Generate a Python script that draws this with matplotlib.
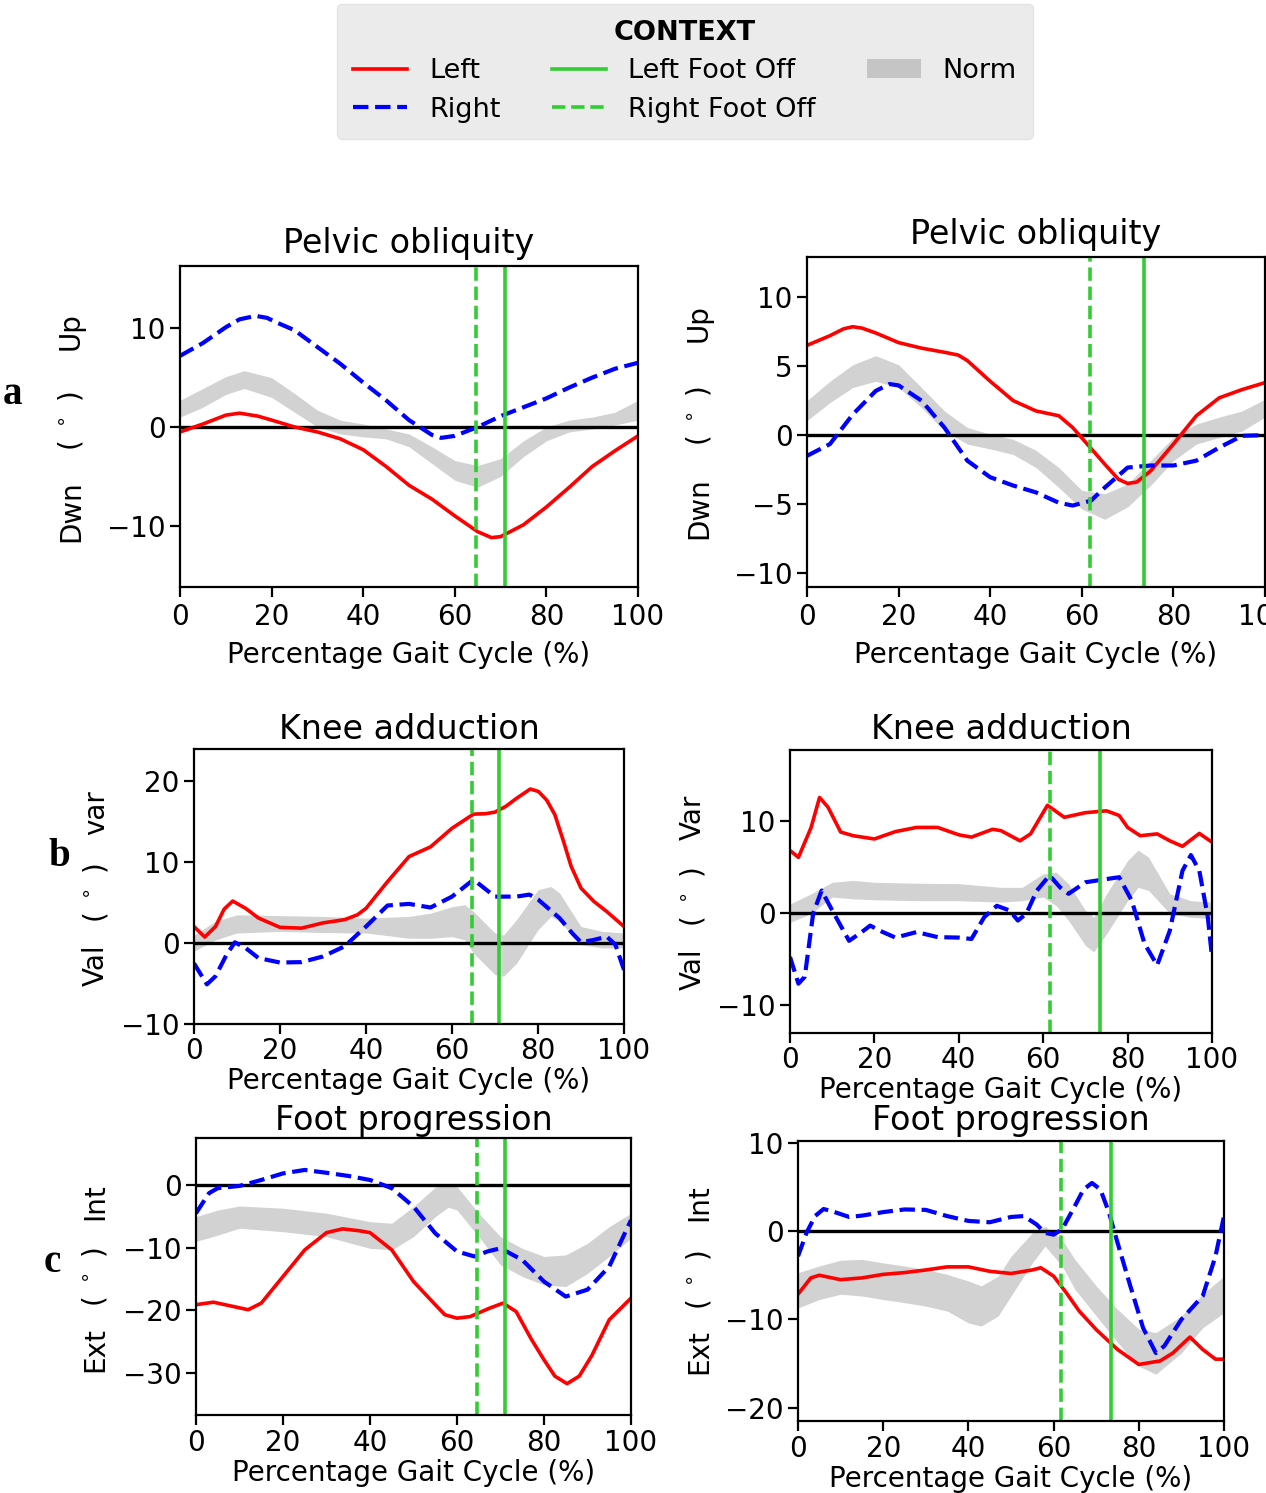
import matplotlib
matplotlib.use("Agg")
import matplotlib.pyplot as plt
from matplotlib.lines import Line2D
from matplotlib.patches import Patch

# ---- data (degrees vs % gait cycle) ----
# left column subject
left_rfo = 64.7  # right foot off
left_lfo = 71.0  # left foot off
# right column subject
right_rfo = 61.7
right_lfo = 73.5

# a) pelvic obliquity, left column
pel1_red_x = [0, 5, 10, 13, 17, 20, 25, 30, 35, 40, 45, 50, 55, 60, 65, 68, 70, 75, 80, 85, 90, 95, 100]
pel1_red = [-0.5, 0.3, 1.2, 1.4, 1.1, 0.7, 0.0, -0.5, -1.2, -2.3, -4.0, -5.9, -7.3, -9.0, -10.6, -11.2, -11.1, -9.9, -8.1, -6.1, -4.0, -2.4, -0.9]
pel1_blue_x = [0, 5, 10, 13, 16.5, 19, 21, 25, 30, 35, 40, 45, 50, 55, 57, 60, 65, 70, 75, 80, 85, 90, 95, 100]
pel1_blue = [7.2, 8.5, 10.1, 10.9, 11.25, 11.05, 10.6, 9.8, 8.1, 6.4, 4.5, 2.7, 0.7, -0.8, -1.1, -0.9, 0.0, 1.1, 2.0, 2.9, 4.0, 5.0, 5.9, 6.5]
pel1_norm_x = [0, 5, 10, 14, 20, 25, 30, 35, 40, 45, 50, 55, 60, 65, 70, 75, 80, 85, 90, 95, 100]
pel1_norm_hi = [2.7, 3.9, 5.1, 5.7, 5.0, 3.4, 1.7, 0.7, 0.3, -0.2, -0.7, -2.0, -3.4, -3.9, -3.2, -1.4, 0.0, 0.7, 1.0, 1.5, 2.7]
pel1_norm_lo = [1.0, 2.0, 3.3, 3.9, 3.0, 1.5, 0.0, -0.7, -1.0, -1.2, -2.0, -3.7, -5.4, -6.1, -5.0, -3.0, -1.4, -0.5, -0.2, 0.2, 0.7]

# a) pelvic obliquity, right column
pel2_red_x = [0, 5, 8, 10, 12, 15, 20, 25, 30, 33, 35, 40, 45, 50, 55, 58, 60, 65, 68, 70, 72, 75, 80, 85, 90, 95, 100]
pel2_red = [6.5, 7.2, 7.7, 7.85, 7.75, 7.4, 6.7, 6.3, 6.0, 5.8, 5.4, 3.9, 2.5, 1.75, 1.4, 0.55, -0.2, -2.1, -3.2, -3.5, -3.4, -2.6, -0.65, 1.4, 2.7, 3.3, 3.8]
pel2_blue_x = [0, 5, 10, 15, 18, 20, 25, 30, 35, 40, 45, 50, 55, 58, 62, 65, 70, 75, 80, 85, 90, 95, 100]
pel2_blue = [-1.5, -0.65, 1.5, 3.2, 3.7, 3.6, 2.5, 0.55, -1.85, -3.05, -3.65, -4.15, -4.9, -5.1, -4.75, -3.8, -2.35, -2.2, -2.2, -1.85, -0.9, -0.05, 0.0]
pel2_norm_x = [0, 5, 10, 15, 20, 25, 30, 35, 40, 45, 50, 55, 60, 65, 70, 75, 80, 85, 90, 95, 100]
pel2_norm_hi = [2.5, 3.9, 5.1, 5.75, 5.1, 3.45, 1.75, 0.55, 0.07, -0.3, -1.1, -2.35, -4.0, -4.25, -3.55, -1.85, -0.17, 0.8, 1.3, 1.75, 2.6]
pel2_norm_lo = [1.05, 2.35, 3.45, 3.9, 3.45, 2.0, 0.3, -0.65, -1.0, -1.4, -2.35, -3.8, -5.35, -6.1, -5.2, -3.65, -1.85, -0.65, -0.17, 0.3, 1.3]

# b) knee adduction, left column
kne1_red_x = [0, 2.5, 5, 7, 9, 12, 15, 20, 25, 30, 35, 38, 40, 45, 50, 55, 60, 65, 67.8, 70, 72.5, 75, 78.2, 80.1, 82, 83.9, 85.8, 87.7, 90, 93, 96, 100]
kne1_red = [2.05, 0.75, 2.05, 4.2, 5.2, 4.3, 3.1, 1.95, 1.85, 2.5, 2.9, 3.5, 4.3, 7.6, 10.7, 11.9, 14.2, 15.95, 16.0, 16.2, 16.9, 17.9, 19.05, 18.75, 17.7, 15.9, 12.8, 9.5, 6.8, 5.15, 3.9, 2.05]
kne1_blue_x = [0, 3, 5, 7.5, 9.5, 12, 15, 20, 25, 30, 35, 40, 45, 50, 55, 60, 65, 70, 75, 78, 80, 85, 88, 90, 93, 96, 98, 100]
kne1_blue = [-2.5, -5.1, -4.1, -1.5, 0.1, -0.6, -1.85, -2.4, -2.35, -1.65, -0.4, 2.05, 4.65, 4.85, 4.4, 5.75, 7.85, 5.75, 5.75, 6.0, 5.4, 3.1, 1.2, 0.1, 0.4, 0.8, -0.2, -3.3]
kne1_norm_x = [0, 5, 10, 20, 30, 40, 50, 55, 60, 63, 65, 70, 72, 75, 80, 83, 85, 90, 95, 100]
kne1_norm_hi = [1.0, 2.7, 3.5, 3.4, 3.3, 3.1, 3.3, 3.7, 4.5, 4.75, 3.9, 1.25, 1.0, 2.9, 6.6, 7.0, 6.2, 2.05, 1.45, 1.25]
kne1_norm_lo = [-1.0, 0.4, 1.25, 1.45, 1.3, 1.25, 0.6, 0.6, 0.8, 0.4, -1.25, -3.9, -4.1, -2.5, 1.65, 3.3, 2.7, -0.2, -0.6, -0.6]

# b) knee adduction, right column
kne2_red_x = [0, 2, 5, 7, 9, 12, 15, 20, 25, 30, 35, 40, 43, 48, 50, 54.5, 57, 61, 65, 70, 75, 78, 80, 83, 87, 90, 93, 97, 100]
kne2_red = [6.8, 6.05, 9.3, 12.55, 11.5, 8.8, 8.4, 8.05, 8.85, 9.3, 9.3, 8.5, 8.25, 9.1, 8.95, 7.85, 8.6, 11.7, 10.4, 10.9, 11.1, 10.6, 9.3, 8.4, 8.6, 7.85, 7.25, 8.65, 7.7]
kne2_blue_x = [0, 2, 3.5, 5.5, 7.5, 10, 14, 17, 19, 22, 25, 30, 35, 40, 43, 46, 49, 52, 54, 56, 58.5, 61.5, 64, 66, 70, 75, 78, 81, 84, 87, 90, 93, 95, 97, 99, 100]
kne2_blue = [-4.75, -7.65, -6.9, 0.0, 2.45, 0.3, -3.0, -2.05, -1.35, -2.05, -2.65, -2.05, -2.6, -2.65, -2.8, -0.45, 0.8, 0.3, -0.8, -0.05, 2.45, 4.1, 2.8, 2.1, 3.35, 3.7, 3.9, 1.35, -3.3, -5.65, -1.9, 4.6, 6.3, 4.6, -0.4, -4.75]
kne2_norm_x = [0, 5, 10, 15, 20, 30, 40, 50, 55, 60, 63, 66, 70, 72, 75, 80, 82.5, 85, 90, 95, 100]
kne2_norm_hi = [1.0, 2.1, 3.35, 3.55, 3.35, 3.25, 3.2, 2.8, 2.8, 4.25, 4.45, 3.2, 0.3, -0.45, 2.1, 5.7, 6.85, 6.05, 2.1, 1.35, 1.2]
kne2_norm_lo = [-1.0, -0.05, 1.75, 1.55, 1.45, 1.35, 1.35, 1.2, 1.35, 1.75, 0.85, -0.8, -3.5, -4.2, -2.25, 1.35, 2.8, 2.45, -0.05, -0.45, -0.6]

# c) foot progression, left column
fot1_red_x = [0, 4, 8, 12, 15, 20, 25, 30, 33.7, 37.5, 40, 45, 50, 55, 57.2, 60, 63, 67.5, 70.6, 73.6, 77, 80, 82.5, 85.3, 88.1, 91, 95, 100]
fot1_red = [-19.1, -18.7, -19.3, -19.9, -18.85, -14.6, -10.35, -7.6, -7.0, -7.3, -7.6, -10.35, -15.4, -19.1, -20.7, -21.25, -21.0, -19.65, -18.85, -20.2, -24.5, -27.9, -30.5, -31.7, -30.5, -27.2, -21.5, -18.05]
fot1_blue_x = [0, 3, 5, 10, 15, 20, 25, 30, 35, 40, 45, 50, 55, 60, 64, 67, 70, 75, 80, 85, 90, 95, 100]
fot1_blue = [-4.5, -1.3, -0.5, -0.15, 0.8, 1.85, 2.4, 1.95, 1.45, 0.8, -0.5, -3.45, -7.7, -10.6, -11.4, -10.6, -10.1, -11.95, -15.4, -17.8, -16.7, -13.0, -5.6]
fot1_norm_x = [0, 5, 10, 20, 30, 40, 45, 50, 55, 58, 60, 65, 70, 75, 80, 85, 90, 95, 100]
fot1_norm_hi = [-5.05, -4.0, -3.35, -3.7, -4.5, -5.85, -6.1, -3.45, -0.35, 0.25, -0.25, -4.5, -8.25, -10.1, -11.4, -11.15, -9.3, -6.65, -4.5]
fot1_norm_lo = [-9.0, -8.0, -6.9, -7.45, -8.25, -10.1, -10.35, -8.25, -5.05, -3.55, -4.0, -8.25, -12.75, -14.6, -15.95, -16.2, -14.1, -11.4, -8.5]

# c) foot progression, right column
fot2_red_x = [0, 3, 5, 10, 15, 20, 25, 30, 35, 40, 45, 50, 55, 57, 60, 63, 66, 70, 75, 80, 85, 88, 92, 95, 98, 100]
fot2_red = [-7.15, -5.3, -5.0, -5.5, -5.3, -4.9, -4.7, -4.4, -4.05, -4.05, -4.55, -4.8, -4.4, -4.15, -5.1, -7.0, -9.05, -11.15, -13.4, -15.1, -14.7, -13.8, -12.0, -13.4, -14.5, -14.5]
fot2_blue_x = [0, 2, 4, 6, 8, 12, 15, 20, 25, 30, 35, 40, 45, 50, 53, 56, 58, 60, 62, 65, 67, 69, 71, 73, 75, 78, 81, 84, 86, 90, 95, 98, 100]
fot2_blue = [-2.85, -0.2, 1.7, 2.5, 2.25, 1.6, 1.75, 2.15, 2.45, 2.4, 1.7, 1.15, 1.0, 1.6, 1.7, 0.75, -0.2, -0.4, 0.2, 2.85, 4.7, 5.45, 4.7, 2.1, -1.3, -6.2, -10.95, -13.8, -13.0, -10.0, -7.35, -2.85, 1.7]
fot2_norm_x = [0, 5, 10, 15, 20, 25, 30, 35, 40, 43, 47, 50, 55, 58, 62, 65, 70, 75, 80, 84, 90, 95, 100]
fot2_norm_hi = [-4.7, -3.95, -3.3, -3.2, -3.6, -3.95, -4.35, -4.9, -5.65, -6.2, -5.1, -2.85, -0.2, 0.55, -0.95, -3.2, -6.2, -8.85, -11.1, -11.5, -9.6, -7.15, -5.1]
fot2_norm_lo = [-8.7, -7.75, -7.15, -7.35, -7.75, -8.1, -8.5, -9.05, -10.4, -10.75, -9.6, -7.35, -3.6, -1.7, -3.95, -6.6, -9.6, -12.6, -15.3, -16.2, -13.8, -10.95, -9.25]

W, H = 1266, 1493
fig = plt.figure(figsize=(W / 100, H / 100), dpi=100)


def px_rect(l, t, r, b):  # pixel box -> figure fraction rect
    return [l / W, 1 - b / H, (r - l) / W, (b - t) / H]


def draw_panel(rect, title, red, blue, norm, rfo, lfo, ylim, yticks, ylab, ylab_x, ylab_y,
               tpad=9, xpad=6, tickpad=3.5):
    ax = fig.add_axes(rect)
    ax.fill_between(norm[0], norm[1], norm[2], color="gray", alpha=0.35, lw=0)
    ax.axhline(0, color="black", lw=2.4)
    ax.plot(red[0], red[1], color="red", lw=2.6, solid_joinstyle="round")
    ax.plot(blue[0], blue[1], color="blue", lw=3, ls="--")
    ax.axvline(rfo, color="limegreen", lw=2.6, ls="--")
    ax.axvline(lfo, color="limegreen", lw=2.6)
    ax.set_xlim(0, 100)
    ax.set_ylim(*ylim)
    ax.set_xticks([0, 20, 40, 60, 80, 100])
    ax.set_yticks(yticks)
    ax.tick_params(labelsize=20, length=7, width=1.6)
    ax.tick_params(axis="x", pad=tickpad)
    for s in ax.spines.values():
        s.set_linewidth(1.6)
    ax.set_title(title, fontsize=24, pad=tpad)
    ax.set_xlabel("Percentage Gait Cycle (%)", fontsize=20, labelpad=xpad)
    for txt, y in zip(ylab, ylab_y):
        fig.text(ylab_x / W, 1 - y / H, txt, rotation=90, fontsize=20,
                 ha="center", va="center")
    return ax


draw_panel(px_rect(180, 266, 638, 587), "Pelvic obliquity",
           (pel1_red_x, pel1_red), (pel1_blue_x, pel1_blue),
           (pel1_norm_x, pel1_norm_hi, pel1_norm_lo), left_rfo, left_lfo,
           (-16.2, 16.3), [-10, 0, 10], ["Up", "( $^\\circ$ )", "Dwn"], 71, [331, 421, 511],
           tpad=9, xpad=7, tickpad=4.5)
draw_panel(px_rect(807, 257, 1265, 587), "Pelvic obliquity",
           (pel2_red_x, pel2_red), (pel2_blue_x, pel2_blue),
           (pel2_norm_x, pel2_norm_hi, pel2_norm_lo), right_rfo, right_lfo,
           (-11.0, 12.9), [-10, -5, 0, 5, 10], ["Up", "( $^\\circ$ )", "Dwn"], 699, [323, 416, 508],
           tpad=9, xpad=7, tickpad=4.5)
draw_panel(px_rect(194, 749, 624, 1024), "Knee adduction",
           (kne1_red_x, kne1_red), (kne1_blue_x, kne1_blue),
           (kne1_norm_x, kne1_norm_hi, kne1_norm_lo), left_rfo, left_lfo,
           (-10, 24), [-10, 0, 10, 20], ["var", "( $^\\circ$ )", "Val"], 96, [813, 893, 965],
           tpad=7, xpad=1.5, tickpad=2.5)
draw_panel(px_rect(790, 750, 1212, 1033), "Knee adduction",
           (kne2_red_x, kne2_red), (kne2_blue_x, kne2_blue),
           (kne2_norm_x, kne2_norm_hi, kne2_norm_lo), right_rfo, right_lfo,
           (-13.0, 17.7), [-10, 0, 10], ["Var", "( $^\\circ$ )", "Val"], 693, [817, 897, 969],
           tpad=8, xpad=1.5, tickpad=2.5)
draw_panel(px_rect(196, 1138, 631, 1415), "Foot progression",
           (fot1_red_x, fot1_red), (fot1_blue_x, fot1_blue),
           (fot1_norm_x, fot1_norm_hi, fot1_norm_lo), left_rfo, left_lfo,
           (-36.7, 7.5), [-30, -20, -10, 0], ["Int", "( $^\\circ$ )", "Ext"], 95, [1202, 1277, 1350],
           tpad=6, xpad=1.5, tickpad=3)
draw_panel(px_rect(798, 1141, 1224, 1421), "Foot progression",
           (fot2_red_x, fot2_red), (fot2_blue_x, fot2_blue),
           (fot2_norm_x, fot2_norm_hi, fot2_norm_lo), right_rfo, right_lfo,
           (-21.5, 10.2), [-20, -10, 0, 10], ["Int", "( $^\\circ$ )", "Ext"], 699, [1203, 1280, 1352],
           tpad=8, xpad=1.5, tickpad=3)

# panel letters
for letter, x, y in [("a", 13, 394), ("b", 59, 857), ("c", 52, 1263)]:
    fig.text(x / W, 1 - y / H, letter, fontsize=28, fontweight="bold",
             family="Liberation Serif", ha="center", va="center")

handles = [
    Line2D([], [], color="red", lw=2.6),
    Line2D([], [], color="blue", lw=3, ls="--"),
    Line2D([], [], color="limegreen", lw=2.6),
    Line2D([], [], color="limegreen", lw=2.6, ls="--"),
    Patch(facecolor="gray", alpha=0.35, lw=0),
]
labels = ["Left", "Right", "Left Foot Off", "Right Foot Off", "Norm"]
leg = fig.legend(handles, labels, loc="upper center", bbox_to_anchor=(685 / W, 1 - 4 / H),
                 borderaxespad=0, ncol=3, fontsize=19.5, title="CONTEXT",
                 title_fontproperties={"size": 19.5, "weight": "bold"},
                 facecolor="#ebebeb", edgecolor="#e4e4e4", framealpha=1, fancybox=True,
                 labelspacing=0.45, columnspacing=1.9, handlelength=2.0, borderpad=0.6)

fig.savefig("out.png", dpi=100)
